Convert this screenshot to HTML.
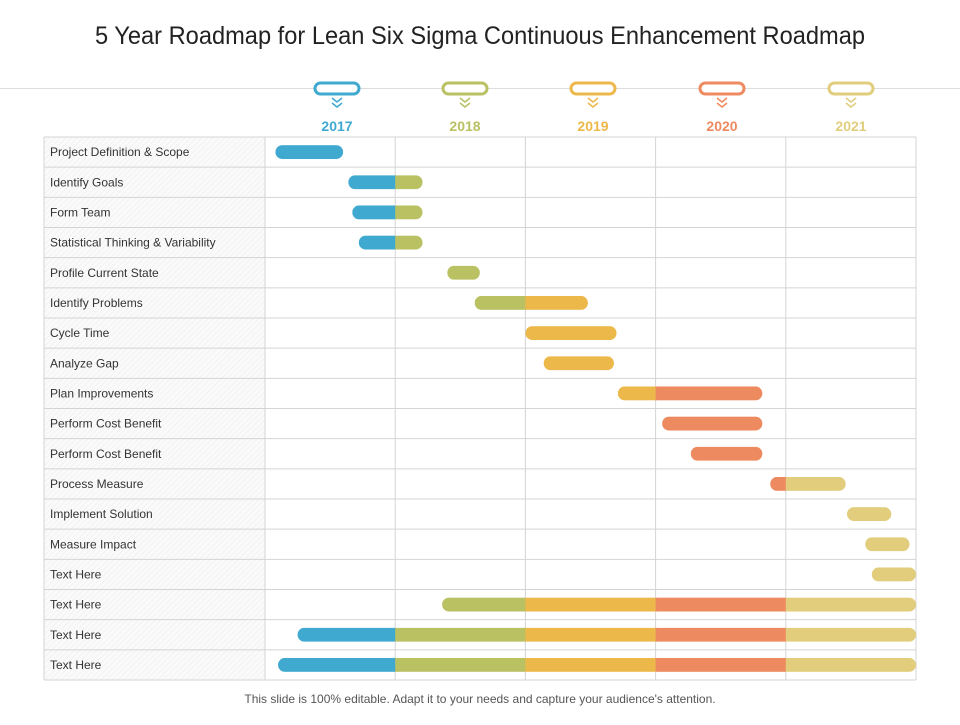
<!DOCTYPE html>
<html><head><meta charset="utf-8"><style>
body{margin:0;width:960px;height:720px;background:#fff;font-family:"Liberation Sans",sans-serif;overflow:hidden}
</style></head><body>
<svg id="c" width="960" height="720" xmlns="http://www.w3.org/2000/svg">
<defs><pattern id="hatch" width="4" height="4" patternUnits="userSpaceOnUse" patternTransform="rotate(45)"><rect width="4" height="4" fill="#fafafa"/><line x1="0" y1="0" x2="0" y2="4" stroke="#ececec" stroke-width="1"/></pattern></defs>
<text x="480" y="44" text-anchor="middle" font-size="25" fill="#222" textLength="770" lengthAdjust="spacingAndGlyphs">5 Year Roadmap for Lean Six Sigma Continuous Enhancement Roadmap</text>
<line x1="0" y1="88.5" x2="960" y2="88.5" stroke="#ddd"/>
<g id="g"></g>
<text x="480" y="703" text-anchor="middle" font-size="12" fill="#555">This slide is 100% editable. Adapt it to your needs and capture your audience's attention.</text>
</svg>
<script>
const years=["2017","2018","2019","2020","2021"];
const yearColors=["#3fa9cf","#b9c163","#edb84a","#ee8a60","#e1cd7c"];
const tasks=["Project Definition & Scope","Identify Goals","Form Team","Statistical Thinking & Variability","Profile Current State","Identify Problems","Cycle Time","Analyze Gap","Plan Improvements","Perform Cost Benefit","Perform Cost Benefit","Process Measure","Implement Solution","Measure Impact","Text Here","Text Here","Text Here","Text Here"];
const starts=[0.08,0.64,0.67,0.72,1.40,1.61,2.00,2.14,2.71,3.05,3.27,3.88,4.47,4.61,4.66,1.36,0.25,0.10];
const ends=[0.60,1.21,1.21,1.21,1.65,2.48,2.70,2.68,3.82,3.82,3.82,4.46,4.81,4.95,5.0,5.0,5.0,5.0];
const NS="http://www.w3.org/2000/svg",g=document.getElementById('g');
const X0=265,CW=130.2,Y0=137,RH=(680-137)/18,LX=44;
const xs=v=>X0+v*CW, ys=i=>Y0+i*RH;
function mk(t,a){const e=document.createElementNS(NS,t);for(const k in a)e.setAttribute(k,a[k]);g.appendChild(e);return e;}
// label column background
let bg=mk('rect',{x:LX,y:Y0,width:X0-LX,height:RH*18,fill:'url(#hatch)'});


// grid
for(let i=0;i<=18;i++){let l=mk('line',{x1:LX,x2:xs(5),y1:ys(i),y2:ys(i),stroke:'#d4d4d4'});

}
for(let j=0;j<=5;j++){let l=mk('line',{x1:xs(j),x2:xs(j),y1:Y0,y2:ys(18),stroke:'#d4d4d4'});

}
let l0=mk('line',{x1:LX,x2:LX,y1:Y0,y2:ys(18),stroke:'#d4d4d4'});


// headers
const mc=[337,465,593,722,851];
years.forEach((y,j)=>{const cx=mc[j],c=yearColors[j];
let p=mk('rect',{x:cx-22,y:83,width:44,height:11,rx:5.5,fill:'#fff',stroke:c,'stroke-width':3});


let ch=mk('path',{d:`M${cx-5} 98 L${cx} 102 L${cx+5} 98 M${cx-5} 103 L${cx} 107 L${cx+5} 103`,fill:'none',stroke:c,'stroke-width':1.5});


let t=mk('text',{x:cx,y:131,'text-anchor':'middle','font-size':14,'font-weight':'bold',fill:c});t.textContent=y;

});
// rows
tasks.forEach((n,i)=>{const cy=ys(i)+RH/2;
let t=mk('text',{x:50,y:cy+4,'font-size':12,fill:'#333'});t.textContent=n;


const s=starts[i],e=ends[i],h=14,r=7;
const cid='clip'+i;const cp=mk('clipPath',{id:cid});
const rr=document.createElementNS(NS,'rect');
[['x',xs(s)],['y',cy-h/2],['width',xs(e)-xs(s)],['height',h],['rx',r]].forEach(a=>rr.setAttribute(a[0],a[1]));cp.appendChild(rr);
for(let j=0;j<5;j++){const a=Math.max(s,j),b=Math.min(e,j+1);if(b<=a)continue;
let seg=mk('rect',{x:xs(a),y:cy-h/2,width:xs(b)-xs(a)+0.3,height:h,fill:yearColors[j],'clip-path':`url(#${cid})`});

}
});
</script>
</body></html>
